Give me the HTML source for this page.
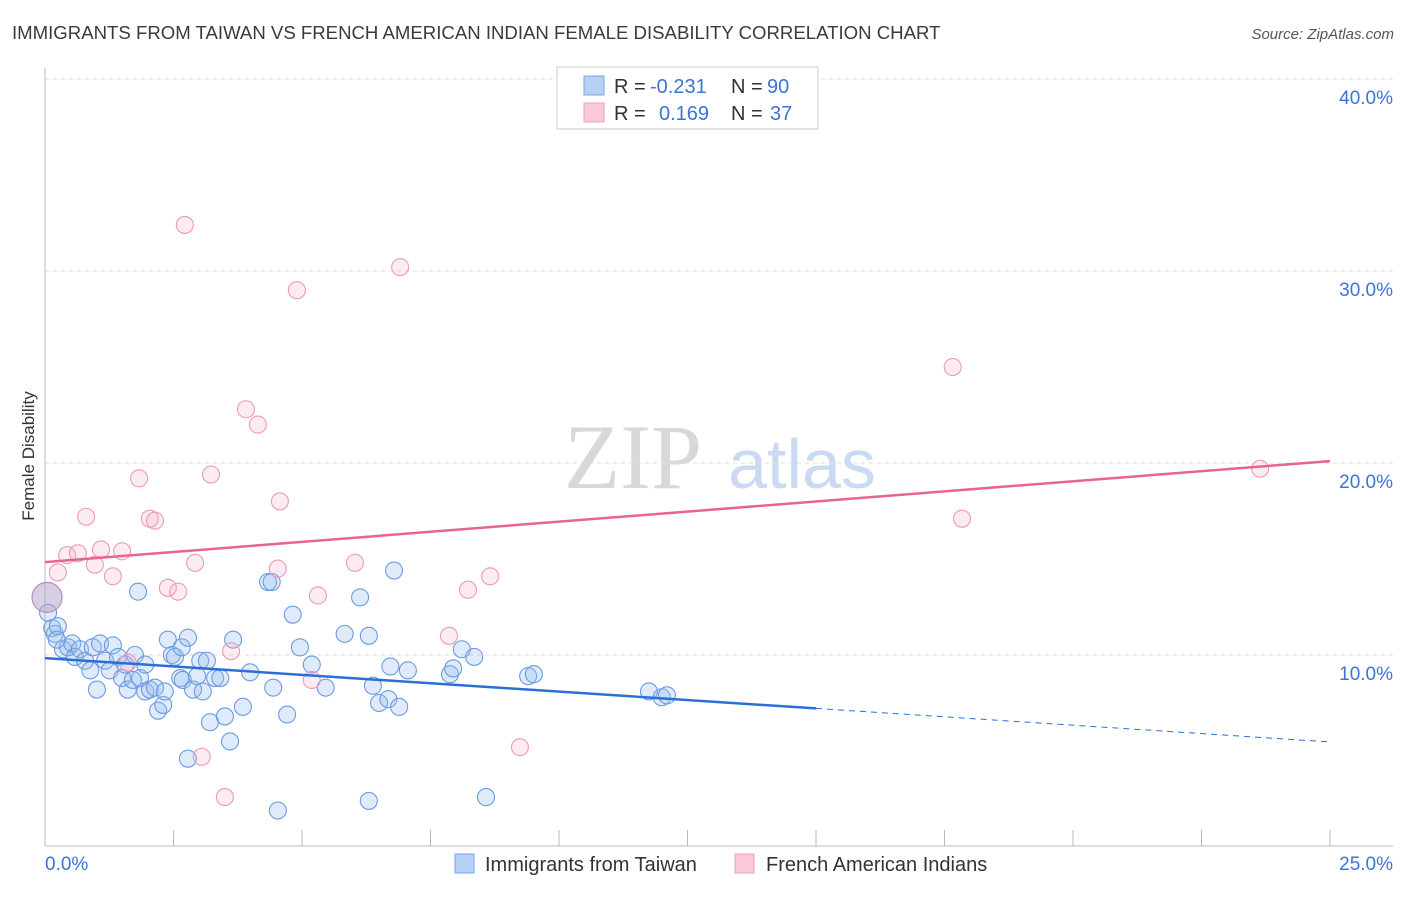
<!DOCTYPE html>
<html><head><meta charset="utf-8"><style>
body{margin:0;background:#fff;font-family:"Liberation Sans",sans-serif}
</style></head><body>
<svg id="chart" width="1406" height="892" xmlns="http://www.w3.org/2000/svg">
<text x="12" y="39" font-size="18.6" fill="#3a3a3a">IMMIGRANTS FROM TAIWAN VS FRENCH AMERICAN INDIAN FEMALE DISABILITY CORRELATION CHART</text>
<text x="1394" y="39" font-size="15" fill="#555" text-anchor="end" font-style="italic">Source: ZipAtlas.com</text>
<text x="633" y="488" font-size="92" fill="#d8d8d8" text-anchor="middle" font-family="Liberation Serif,serif">ZIP</text>
<text x="802" y="488" font-size="70" fill="#c9daf2" text-anchor="middle">atlas</text>
<text x="34" y="456" font-size="17" fill="#333" text-anchor="middle" transform="rotate(-90 34 456)">Female Disability</text>
<g id="grid"></g><g id="marks"></g>
<g>
<rect x="557" y="67" width="261" height="62" fill="#fff" stroke="#ccc"/>
<rect x="584" y="76" width="20" height="19" fill="#b7d0f5" stroke="#7aa6e6"/>
<rect x="584" y="103" width="20" height="19" fill="#f9c9d8" stroke="#eea0ba"/>
<text x="614" y="93" font-size="20" fill="#333">R =</text>
<text x="650" y="93" font-size="20" fill="#3b74d6">-0.231</text>
<text x="731" y="93" font-size="20" fill="#333">N =</text>
<text x="767" y="93" font-size="20" fill="#3b74d6">90</text>
<text x="614" y="120" font-size="20" fill="#333">R =</text>
<text x="659" y="120" font-size="20" fill="#3b74d6">0.169</text>
<text x="731" y="120" font-size="20" fill="#333">N =</text>
<text x="770" y="120" font-size="20" fill="#3b74d6">37</text>
</g>
<g>
<rect x="455" y="854" width="19" height="19" fill="#b7d0f5" stroke="#7aa6e6"/>
<text x="485" y="871" font-size="20" fill="#333">Immigrants from Taiwan</text>
<rect x="735" y="854" width="19" height="19" fill="#f9c9d8" stroke="#eea0ba"/>
<text x="766" y="871" font-size="20" fill="#333">French American Indians</text>
</g>
</svg>
<script>
const yTicks=[10,20,30,40];
const xTicks=[0,2.5,5,7.5,10,12.5,15,17.5,20,22.5,25];
const blueX=[0.14,0.19,0.25,0.35,0.45,0.53,0.58,0.68,0.78,0.88,0.93,1.01,1.07,1.17,1.26,1.32,1.42,1.50,1.56,1.61,1.71,1.75,1.81,1.85,1.95,1.95,2.04,2.14,2.20,2.30,2.33,2.39,2.47,2.53,2.63,2.66,2.68,2.78,2.78,2.88,2.96,3.02,3.07,3.15,3.21,3.31,3.41,3.50,3.60,3.66,3.85,3.99,4.34,4.41,4.44,4.53,4.71,4.82,4.96,5.19,5.46,5.83,6.13,6.30,6.30,6.38,6.50,6.68,6.72,6.79,6.89,7.06,7.88,7.94,8.11,8.35,8.58,9.40,9.51,11.75,12.00,12.10,0.06,0.23];
const blueY=[11.4,11.1,11.5,10.3,10.4,10.6,9.9,10.3,9.7,9.2,10.4,8.2,10.6,9.7,9.2,10.5,9.9,8.8,9.5,8.2,8.7,10.0,13.3,8.8,9.5,8.1,8.2,8.3,7.1,7.4,8.1,10.8,10.0,9.9,8.8,10.4,8.7,10.9,4.6,8.2,8.9,9.7,8.1,9.7,6.5,8.8,8.8,6.8,5.5,10.8,7.3,9.1,13.8,13.8,8.3,1.9,6.9,12.1,10.4,9.5,8.3,11.1,13.0,11.0,2.4,8.4,7.5,7.7,9.4,14.4,7.3,9.2,9.0,9.3,10.3,9.9,2.6,8.9,9.0,8.1,7.8,7.9,12.2,10.8];
const pinkX=[2.72,6.91,4.90,17.66,3.91,4.14,23.64,1.83,3.23,4.57,0.80,2.04,2.14,17.84,0.43,0.64,1.09,1.50,0.97,2.92,0.25,1.32,4.53,6.03,8.66,2.39,2.59,5.31,8.23,7.86,3.62,1.61,5.19,3.05,3.50,9.24];
const pinkY=[32.4,30.2,29.0,25.0,22.8,22.0,19.7,19.2,19.4,18.0,17.2,17.1,17.0,17.1,15.2,15.3,15.5,15.4,14.7,14.8,14.3,14.1,14.5,14.8,14.1,13.5,13.3,13.1,13.4,11.0,10.2,9.6,8.7,4.7,2.6,5.2];
const bigX=[0.04], bigY=[13.0];
const blueLineY=[9.84,5.47], blueSolidEnd=15;
const pinkLineY=[14.84,20.1];
const sx=v=>45+v*1285/25, sy=v=>847-v*19.2;
const NS="http://www.w3.org/2000/svg";
const grid=document.getElementById('grid'), marks=document.getElementById('marks');
function mk(tag,attrs,parent){const e=document.createElementNS(NS,tag);for(const k in attrs)e.setAttribute(k,attrs[k]);parent.appendChild(e);return e;}
let a=mk('line',{x1:45,y1:68,x2:45,y2:846,stroke:'#bbb'},grid);


a=mk('line',{x1:45,y1:846,x2:1393,y2:846,stroke:'#bbb'},grid);


yTicks.forEach(t=>{
 const g=mk('line',{x1:45,y1:sy(t),x2:1393,y2:sy(t),stroke:'#ddd','stroke-dasharray':'4,4'},grid);
 
 
 const l=mk('text',{x:1393,y:sy(t)+25,'font-size':19,fill:'#3b74d6','text-anchor':'end'},grid);
 l.textContent=t.toFixed(1)+'%';
 
 
});
xTicks.forEach(t=>{
 const g=mk('line',{x1:sx(t),y1:830,x2:sx(t),y2:846,stroke:'#bbb'},grid);
 
 
});
[[0,'0.0%','start',45],[25,'25.0%','end',1393]].forEach(d=>{
 const l=mk('text',{x:d[3],y:870,'font-size':19,fill:'#3b74d6','text-anchor':d[2]},grid);
 l.textContent=d[1];
 
 
});
blueX.forEach((x,i)=>{
 const c=mk('circle',{cx:sx(x),cy:sy(blueY[i]),r:8.5,fill:'rgba(150,188,238,0.3)',stroke:'#6c9be0','stroke-width':1.1},marks);
 
 
});
pinkX.forEach((x,i)=>{
 const c=mk('circle',{cx:sx(x),cy:sy(pinkY[i]),r:8.5,fill:'rgba(245,175,198,0.25)',stroke:'#eb9bb6','stroke-width':1.1},marks);
 
 
});
bigX.forEach((x,i)=>{
 const c=mk('circle',{cx:sx(x),cy:sy(bigY[i]),r:15,fill:'rgba(180,160,200,0.5)',stroke:'#b090b8','stroke-width':1.2},marks);
 
 
});
const by=x=>blueLineY[0]+(blueLineY[1]-blueLineY[0])*x/25;
let l=mk('line',{x1:sx(0),y1:sy(by(0)),x2:sx(blueSolidEnd),y2:sy(by(blueSolidEnd)),stroke:'#2a6fd6','stroke-width':2.5},marks);


l=mk('line',{x1:sx(blueSolidEnd),y1:sy(by(blueSolidEnd)),x2:sx(25),y2:sy(by(25)),stroke:'#2a6fd6','stroke-width':1,'stroke-dasharray':'6,5'},marks);


l=mk('line',{x1:sx(0),y1:sy(pinkLineY[0]),x2:sx(25),y2:sy(pinkLineY[1]),stroke:'#e8648e','stroke-width':2.5},marks);


</script>
</body></html>
